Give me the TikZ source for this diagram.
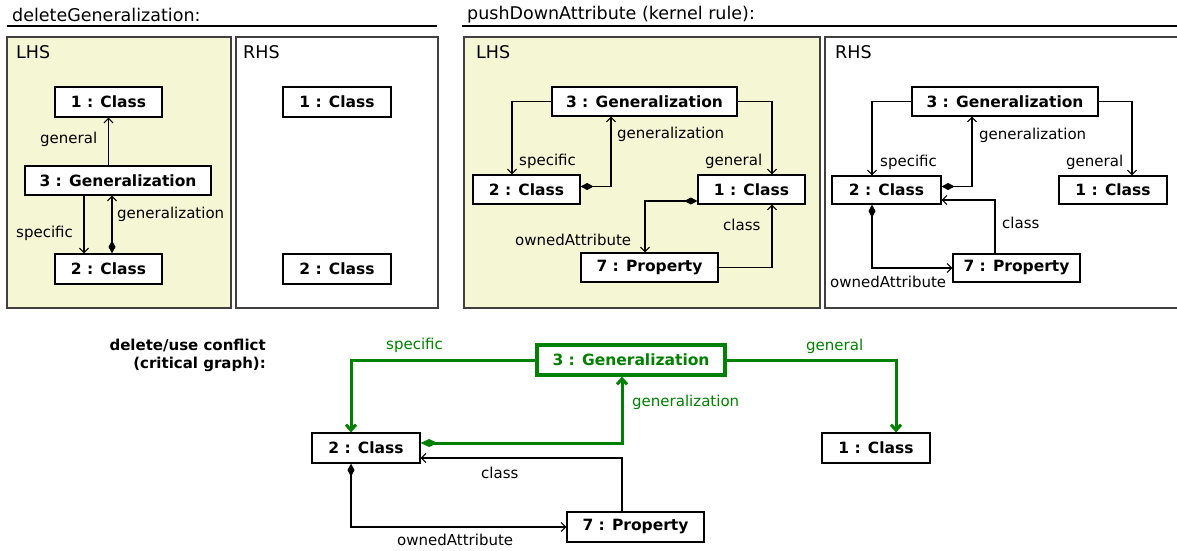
\documentclass[tikz,border=0pt]{standalone}
\usepackage{fontspec}
\setmainfont{DejaVu Sans}
\usetikzlibrary{arrows.meta}
\definecolor{beige}{RGB}{244,246,212}
\definecolor{framegray}{RGB}{64,64,64}
\definecolor{dgreen}{RGB}{0,128,0}
\newcommand\objfont{\fontsize{15.5}{18}\selectfont\bfseries}
\newcommand\lblfont{\fontsize{15}{18}\selectfont}
\newcommand\ttlfont{\fontsize{17.5}{20}\selectfont}
\tikzset{
  obj/.style={draw=black, fill=white, line width=1.2pt, inner sep=0pt, font=\objfont},
  gobj/.style={obj, draw=dgreen, text=dgreen, line width=3.2pt},
  lbl/.style={inner sep=0pt, anchor=west, font=\lblfont},
  glbl/.style={lbl, text=dgreen},
  ttl/.style={inner sep=0pt, anchor=west, font=\ttlfont},
  frame/.style={draw=framegray, line width=2.2pt},
  conn/.style={line width=1.1pt, -{Straight Barb[length=4.5pt,width=9pt]}},
  comp/.style={line width=1.1pt, {Diamond[length=13pt,width=7pt]}-{Straight Barb[length=4.5pt,width=9pt]}},
  gconn/.style={draw=dgreen, line width=3pt, -{Straight Barb[length=5.5pt,width=10pt]}},
  gcomp/.style={draw=dgreen, line width=3pt, {Diamond[length=17pt,width=8pt]}-{Straight Barb[length=5.5pt,width=10pt]}},
}
\begin{document}
\begin{tikzpicture}[x=1pt,y=-1pt]
\useasboundingbox (0,0) rectangle (1177,550);
% titles
\node[ttl] (t1) at (12,15) {deleteGeneralization:};
\node[ttl] (t2) at (467,15) {pushDownAttribute (kernel rule):};
\draw[line width=1.5pt] (7,26) -- (437,26);
\draw[line width=1.5pt] (462,26) -- (1177,26);
% frames
\draw[frame, fill=beige] (7,37) rectangle (231,308);
\draw[frame, fill=white] (236,37) rectangle (438,308);
\draw[frame, fill=beige] (464,37) rectangle (820,308);
\draw[frame, fill=white] (825,37) rectangle (1180,308);
\node[ttl] (h1) at (16,52) {LHS};
\node[ttl] (h2) at (243,52) {RHS};
\node[ttl] (h3) at (476,52) {LHS};
\node[ttl] (h4) at (835,52) {RHS};
% ---- deleteGeneralization LHS
\node[obj, minimum width=107pt, minimum height=30pt] (c1L) at (108.5,102) {1 : Class};
\node[obj, minimum width=186pt, minimum height=29pt] (g3L) at (118,180.5) {3 : Generalization};
\node[obj, minimum width=107pt, minimum height=30pt] (c2L) at (108.5,269) {2 : Class};
\draw[conn] (g3L.north -| c1L.south) -- (c1L.south);
\draw[conn] ([xshift=-34pt]g3L.south) -- ([xshift=-24.5pt]c2L.north);
\draw[comp] ([xshift=3.5pt]c2L.north) -- ([xshift=-6pt]g3L.south);
\node[lbl] (l1) at (40,139) {general};
\node[lbl] (l2) at (16,233) {specific};
\node[lbl] (l3) at (117,214) {generalization};
% ---- deleteGeneralization RHS
\node[obj, minimum width=108pt, minimum height=30pt] (c1R) at (337,102) {1 : Class};
\node[obj, minimum width=108pt, minimum height=30pt] (c2R) at (337,269) {2 : Class};
% ---- pushDown LHS
\node[obj, minimum width=185pt, minimum height=29pt] (gA) at (644.5,101.5) {3 : Generalization};
\node[obj, minimum width=107pt, minimum height=29pt] (c2A) at (526.5,189.5) {2 : Class};
\node[obj, minimum width=107pt, minimum height=29pt] (c1A) at (751.5,189.5) {1 : Class};
\node[obj, minimum width=137pt, minimum height=29pt] (pA) at (649.5,267.5) {7 : Property};
\draw[conn] (gA.west) -| ([xshift=-14.5pt]c2A.north);
\draw[comp] ([yshift=3pt]c2A.east) -| ([xshift=-33.5pt]gA.south);
\draw[conn] (gA.east) -| ([xshift=20.5pt]c1A.north);
\draw[comp] ([yshift=-11.5pt]c1A.west) -| ([xshift=-4.5pt]pA.north);
\draw[conn] (pA.east) -| ([xshift=20.5pt]c1A.south);
\node[lbl] (l4) at (519,161) {specific};
\node[lbl] (l5) at (617,134) {generalization};
\node[lbl] (l6) at (705,161) {general};
\node[lbl] (l7) at (515,240) {ownedAttribute};
\node[lbl] (l8) at (723,225) {class};
% ---- pushDown RHS
\node[obj, minimum width=186pt, minimum height=29pt] (gB) at (1005,101.5) {3 : Generalization};
\node[obj, minimum width=109pt, minimum height=28pt] (c2B) at (886.5,190) {2 : Class};
\node[obj, minimum width=108pt, minimum height=28pt] (c1B) at (1113,190) {1 : Class};
\node[obj, minimum width=127pt, minimum height=28pt] (pB) at (1016.5,268) {7 : Property};
\draw[conn] (gB.west) -| ([xshift=-14.5pt]c2B.north);
\draw[comp] ([yshift=3.5pt]c2B.east) -| ([xshift=-33pt]gB.south);
\draw[conn] (gB.east) -| ([xshift=19pt]c1B.north);
\draw[conn] ([xshift=-21.5pt]pB.north) |- ([yshift=-10pt]c2B.east);
\draw[comp] ([xshift=-14.5pt]c2B.south) |- (pB.west);
\node[lbl] (l9) at (880,162) {specific};
\node[lbl] (l10) at (979,135) {generalization};
\node[lbl] (l11) at (1066,162) {general};
\node[lbl] (l12) at (1002,223) {class};
\node[lbl] (l13) at (830,282) {ownedAttribute};
% ---- critical graph
\node[inner sep=0pt, anchor=east, align=right, font=\fontsize{15}{18}\selectfont\bfseries] (cg) at (266,355) {delete/use conflict\\(critical graph):};
\node[gobj, minimum width=188pt, minimum height=30pt] (gC) at (631,360) {3 : Generalization};
\node[obj, minimum width=108pt, minimum height=30pt] (c2C) at (366,448) {2 : Class};
\node[obj, minimum width=108pt, minimum height=30pt] (c1C) at (876,448) {1 : Class};
\node[obj, minimum width=137pt, minimum height=30pt] (pC) at (635.5,527) {7 : Property};
\draw[gconn] (gC.west) -| ([xshift=-15pt]c2C.north);
\draw[gcomp] ([yshift=5pt]c2C.east) -| ([xshift=-9pt]gC.south);
\draw[gconn] (gC.east) -| ([xshift=20pt]c1C.north);
\draw[conn] ([xshift=-13.5pt]pC.north) |- ([yshift=-10pt]c2C.east);
\draw[comp] ([xshift=-15pt]c2C.south) |- (pC.west);
\node[glbl] (l14) at (386,345) {specific};
\node[glbl] (l15) at (632,402) {generalization};
\node[glbl] (l16) at (806,346) {general};
\node[lbl] (l17) at (481,473) {class};
\node[lbl] (l18) at (397,540) {ownedAttribute};
\end{tikzpicture}
\end{document}
